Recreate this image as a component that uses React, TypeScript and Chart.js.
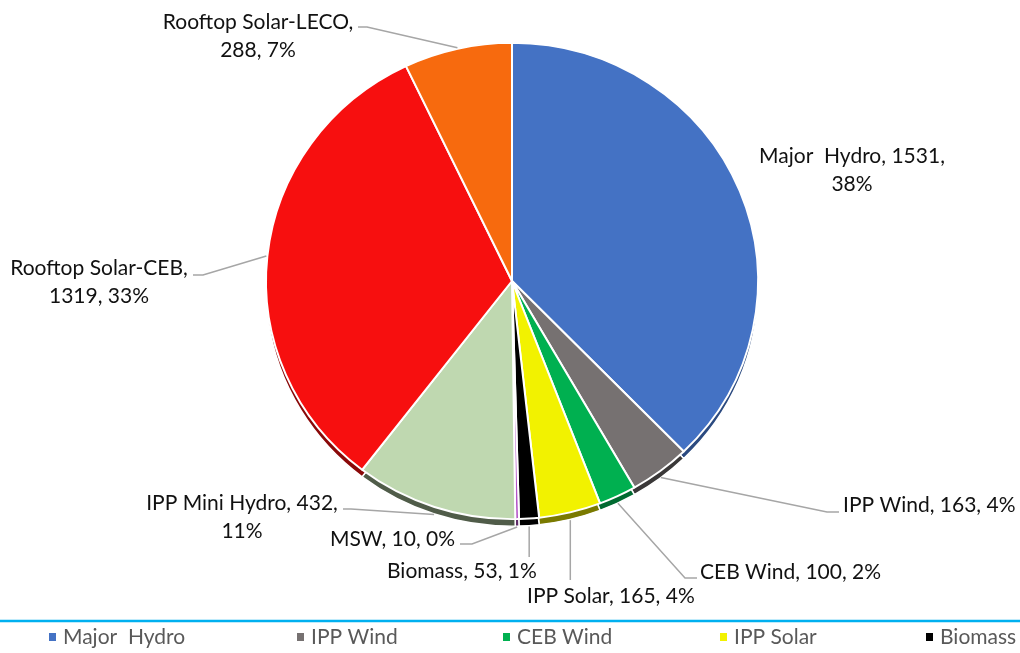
import React, { useEffect, useRef } from 'react';
import { Chart, registerables } from 'chart.js';

Chart.register(...registerables);

// ---- data ----
const categories = [
  'Major  Hydro',
  'IPP Wind',
  'CEB Wind',
  'IPP Solar',
  'Biomass',
  'MSW',
  'IPP Mini Hydro',
  'Rooftop Solar-CEB',
  'Rooftop Solar-LECO',
];
const values = [1531, 163, 100, 165, 53, 10, 432, 1319, 288];
const percentLabels = [38, 4, 2, 4, 1, 0, 11, 33, 7];
const legendShown = 5; // the legend in the source is truncated after 5 entries

// ---- styles ----
const faceColors = [
  '#4472C4',
  '#767171',
  '#00B050',
  '#F2F200',
  '#000000',
  '#B455C8',
  '#BFD8B0',
  '#F70F0F',
  '#F76A0E',
];
const depthColors = [
  '#2B4A80',
  '#3A3838',
  '#006A30',
  '#7A7A00',
  '#000000',
  '#5E2A68',
  '#505C49',
  '#8A0808',
  '#8A3A08',
];

// label layout: text position, alignment, how many comma parts go on line 1, leader path
type LabelLayout = {
  x: number;
  y: number;
  align: CanvasTextAlign;
  firstLineParts: number;
  path: number[][] | null;
  vertical?: number;
};
const labelLayout: LabelLayout[] = [
  { x: 852, y: 156, align: 'center', firstLineParts: 2, path: null },
  { x: 843, y: 505, align: 'left', firstLineParts: 3, path: [[839, 512], [827, 512]] },
  { x: 700, y: 572, align: 'left', firstLineParts: 3, path: [[697, 578], [685, 578]] },
  { x: 527, y: 596, align: 'left', firstLineParts: 3, path: null, vertical: 580 },
  { x: 387, y: 571, align: 'left', firstLineParts: 3, path: null, vertical: 557 },
  { x: 330, y: 539, align: 'left', firstLineParts: 3, path: [[460, 544], [472, 544]] },
  { x: 242, y: 503, align: 'center', firstLineParts: 2, path: [[343, 509], [351, 509]] },
  { x: 99, y: 268, align: 'center', firstLineParts: 1, path: [[193, 275], [203, 275]] },
  { x: 258, y: 22, align: 'center', firstLineParts: 1, path: [[358, 27], [367, 27]] },
];
const legendX = [49, 297, 503, 720, 926];

const DEPTH = 7;
const TILT = 0.968; // slight vertical squash of the 3-D pie
const LABEL_FONT = '21px Lato, "Open Sans", sans-serif';
const LEGEND_FONT = '21px Lato, "Open Sans", sans-serif';

const depthPlugin = {
  id: 'depth3d',
  beforeDatasetsDraw(chart: any) {
    const ctx = chart.ctx;
    const meta = chart.getDatasetMeta(0);
    const cy = meta.data[0].y;
    ctx.save();
    ctx.translate(0, cy * (1 - TILT));
    ctx.scale(1, TILT);
    meta.data.forEach((arc: any, i: number) => {
      const { x, y, startAngle, endAngle, outerRadius } = arc.getProps(
        ['x', 'y', 'startAngle', 'endAngle', 'outerRadius'],
        true
      );
      const d = DEPTH / TILT;
      ctx.beginPath();
      ctx.moveTo(x, y + d);
      ctx.arc(x, y + d, outerRadius, startAngle, endAngle);
      ctx.closePath();
      ctx.fillStyle = depthColors[i];
      ctx.fill();
      ctx.strokeStyle = '#ffffff';
      ctx.lineWidth = 1.5;
      ctx.stroke();
    });
  },
  afterDatasetsDraw(chart: any) {
    chart.ctx.restore();
  },
};

const labelPlugin = {
  id: 'outerLabels',
  afterDatasetsDraw(chart: any) {
    const ctx = chart.ctx;
    const meta = chart.getDatasetMeta(0);
    ctx.save();
    meta.data.forEach((arc: any, i: number) => {
      const { x, y, startAngle, endAngle, outerRadius } = arc.getProps(
        ['x', 'y', 'startAngle', 'endAngle', 'outerRadius'],
        true
      );
      const mid = (startAngle + endAngle) / 2;
      const ax = x + Math.cos(mid) * (outerRadius + 1);
      const ay =
        y + Math.sin(mid) * (outerRadius + 1) * TILT + DEPTH * Math.max(0, Math.sin(mid));
      const L = labelLayout[i];
      // leader line
      ctx.strokeStyle = '#A6A6A6';
      ctx.lineWidth = 1.5;
      if (L.path) {
        ctx.beginPath();
        ctx.moveTo(L.path[0][0], L.path[0][1]);
        for (let k = 1; k < L.path.length; k++) ctx.lineTo(L.path[k][0], L.path[k][1]);
        ctx.lineTo(ax, ay);
        ctx.stroke();
      } else if (L.vertical !== undefined) {
        ctx.beginPath();
        ctx.moveTo(ax, L.vertical);
        ctx.lineTo(ax, ay);
        ctx.stroke();
      }
      // text
      const parts = [categories[i], String(values[i]), percentLabels[i] + '%'];
      const line1 = parts.slice(0, L.firstLineParts).join(', ') + (L.firstLineParts < 3 ? ',' : '');
      const line2 = parts.slice(L.firstLineParts).join(', ');
      ctx.font = LABEL_FONT;
      ctx.fillStyle = '#111111';
      ctx.textAlign = L.align;
      ctx.textBaseline = 'middle';
      ctx.fillText(line1, L.x, L.y);
      if (line2) ctx.fillText(line2, L.x, L.y + 28);
    });
    ctx.restore();
  },
};

const legendPlugin = {
  id: 'bottomLegend',
  afterDraw(chart: any) {
    const ctx = chart.ctx;
    ctx.save();
    ctx.strokeStyle = '#00B0F0';
    ctx.lineWidth = 2.5;
    ctx.beginPath();
    ctx.moveTo(0, 621);
    ctx.lineTo(chart.width, 621);
    ctx.stroke();
    ctx.font = LEGEND_FONT;
    ctx.textBaseline = 'middle';
    ctx.textAlign = 'left';
    for (let i = 0; i < legendShown; i++) {
      const lx = legendX[i];
      ctx.fillStyle = faceColors[i];
      ctx.fillRect(lx, 633, 7, 8);
      ctx.fillStyle = '#595959';
      ctx.fillText(categories[i], lx + 14, 637);
    }
    ctx.restore();
  },
};

export default function App() {
  const ref = useRef<HTMLCanvasElement>(null);
  useEffect(() => {
    document.body.style.margin = '0';
    const chart = new Chart(ref.current as HTMLCanvasElement, {
      type: 'pie',
      data: {
        labels: categories,
        datasets: [
          {
            data: values,
            backgroundColor: faceColors,
            borderColor: '#ffffff',
            borderWidth: 2,
          },
        ],
      },
      options: {
        responsive: false,
        animation: false,
        layout: { padding: { top: 34, bottom: 125, left: 4, right: 0 } },
        plugins: {
          legend: { display: false },
          tooltip: { enabled: false },
        },
      },
      plugins: [depthPlugin, labelPlugin, legendPlugin],
    });
    return () => chart.destroy();
  }, []);
  return (
    <div style={{ width: 1020, height: 653, background: '#ffffff' }}>
      <canvas ref={ref} width={1020} height={653} style={{ display: 'block' }} />
    </div>
  );
}
